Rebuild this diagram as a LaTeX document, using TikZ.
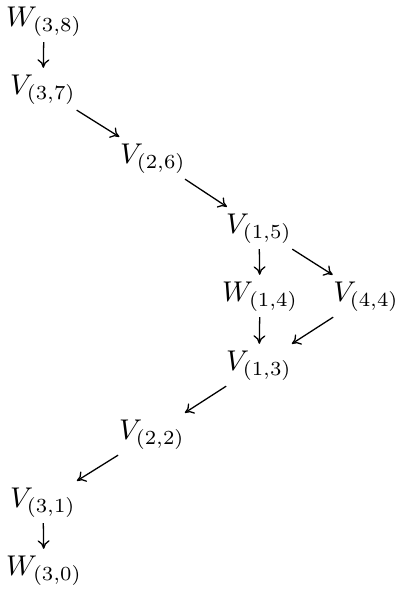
\documentclass[tikz,border=0pt]{standalone}
\usetikzlibrary{arrows.meta}
\begin{document}
\begin{tikzpicture}[x=0.35pt,y=-0.35pt,
  n/.style={inner xsep=1pt, inner ysep=2.2pt, text height=7pt, text depth=3pt},
  ar/.style={-{To[length=3pt,width=4.2pt]}, line width=0.45pt}]
\useasboundingbox (0,0) rectangle (395,590);
\node[n] (w38) at (44,21)  {$W_{(3,8)}$};
\node[n] (v37) at (43,89)  {$V_{(3,7)}$};
\node[n] (v26) at (153,158) {$V_{(2,6)}$};
\node[n] (v15) at (259,228) {$V_{(1,5)}$};
\node[n] (w14) at (260,296) {$W_{(1,4)}$};
\node[n] (v44) at (366,296) {$V_{(4,4)}$};
\node[n] (v13) at (259,365) {$V_{(1,3)}$};
\node[n] (v22) at (152,434) {$V_{(2,2)}$};
\node[n] (v31) at (43,502) {$V_{(3,1)}$};
\node[n] (w30) at (44,570) {$W_{(3,0)}$};
\draw[ar] (w38) -- (v37);
\draw[ar] (v37) -- (v26);
\draw[ar] (v26) -- (v15);
\draw[ar] (v15) -- (w14);
\draw[ar] (v15) -- (v44);
\draw[ar] (w14) -- (v13);
\draw[ar] (v44) -- (v13);
\draw[ar] (v13) -- (v22);
\draw[ar] (v22) -- (v31);
\draw[ar] (v31) -- (w30);
\end{tikzpicture}
\end{document}
